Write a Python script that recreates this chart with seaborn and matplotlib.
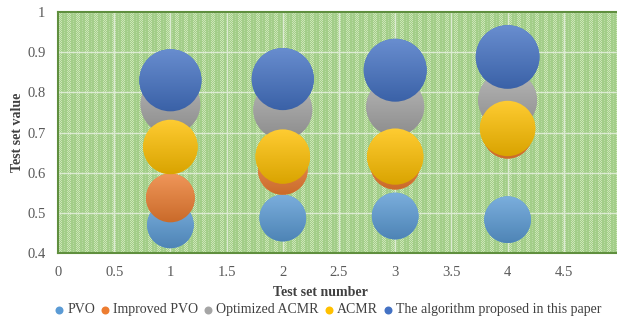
import numpy as np
import pandas as pd
import matplotlib
matplotlib.use("Agg")
import matplotlib.pyplot as plt
from matplotlib.path import Path
from matplotlib.transforms import Affine2D, IdentityTransform
from matplotlib.lines import Line2D
import seaborn as sns

# Test set numbers and measured values per method
test_sets = [1, 2, 3, 4]
series_names = ["PVO", "Improved PVO", "Optimized ACMR", "ACMR",
                "The algorithm proposed in this paper"]
pvo = [0.470, 0.487, 0.492, 0.483]
improved_pvo = [0.537, 0.607, 0.620, 0.697]
optimized_acmr = [0.770, 0.756, 0.764, 0.780]
acmr = [0.664, 0.640, 0.640, 0.710]
proposed = [0.830, 0.833, 0.855, 0.888]

# Bubble size values (area-proportional)
pvo_size = [2.2, 2.2, 2.2, 2.2]
improved_pvo_size = [2.4, 2.5, 2.5, 2.5]
optimized_acmr_size = [3.6, 3.5, 3.4, 3.5]
acmr_size = [3.0, 3.0, 3.2, 3.1]
proposed_size = [3.9, 3.9, 4.0, 4.1]

colors = ["#5b9bd5", "#ed7d31", "#a5a5a5", "#ffc000", "#4472c4"]

values = [pvo, improved_pvo, optimized_acmr, acmr, proposed]
sizes = [pvo_size, improved_pvo_size, optimized_acmr_size, acmr_size, proposed_size]

rows = []
for name, v, s in zip(series_names, values, sizes):
    for x, yv, sv in zip(test_sets, v, s):
        rows.append({"set": x, "value": yv, "bubble": sv, "method": name})
df = pd.DataFrame(rows)

sns.set_theme(style="white")
plt.rcParams["font.family"] = ["Liberation Serif", "DejaVu Serif"]

W, H = 617, 323
DPI = 100
fig = plt.figure(figsize=(W / DPI, H / DPI), dpi=DPI)
ax = fig.add_axes([58 / W, 1 - 253 / H, (620 - 58) / W, (253 - 12) / H])

# Striped, lightly dotted green plot background
ax.set_facecolor("#a6cf8b")
ph, pw = 241, 562
tex = np.zeros((ph, pw, 4))
dark = np.array([0.64, 0.81, 0.54])
light = np.array([0.80, 0.90, 0.72])
rr, cc = np.mgrid[0:ph, 0:pw]
phase = cc % 9
in_light = phase < 4
checker = (rr + cc) % 2 == 0
tex[..., :3] = dark
tex[..., 3] = 1.0
sel = in_light & checker
tex[sel, :3] = light
sel2 = (~in_light) & checker & (phase % 3 == 0)
tex[sel2, :3] = dark * 0.5 + light * 0.5
ax.imshow(tex, extent=[0, 1, 0, 1], transform=ax.transAxes,
          aspect="auto", zorder=0, interpolation="nearest")

ax.set_xlim(0, 5)
ax.set_ylim(0.4, 1.0)
ax.set_xticks(np.arange(0, 5, 0.5))
ax.set_xticklabels(["0", "0.5", "1", "1.5", "2", "2.5", "3", "3.5", "4", "4.5"])
ax.set_yticks(np.arange(0.4, 1.01, 0.1))
ax.set_yticklabels(["0.4", "0.5", "0.6", "0.7", "0.8", "0.9", "1"])
ax.grid(True, color="#dcebd2", linewidth=1.0, zorder=1)
ax.set_axisbelow(True)

scale = 2000 / 3.9
sns.scatterplot(data=df, x="set", y="value", hue="method", size="bubble",
                hue_order=series_names, palette=colors,
                sizes=(0, 5.0 * scale), size_norm=(0, 5.0),
                linewidth=0, alpha=1.0, legend=False, ax=ax, zorder=3)

# Shade each bubble with a vertical gradient (lighter top, darker bottom)
coll = ax.collections[-1]
offsets = coll.get_offsets()
areas = coll.get_sizes()
faces = coll.get_facecolors()
circle = Path.unit_circle()
inv = ax.transData.inverted()
for i in range(len(offsets)):
    area = areas[i] if len(areas) > 1 else areas[0]
    r_px = np.sqrt(area) / 2 * DPI / 72
    cx, cy = ax.transData.transform(offsets[i])
    base = np.array(faces[i][:3])
    top = base + (1 - base) * 0.2
    bottom = base * 0.85
    t = np.linspace(0, 1, 64)[:, None]
    grad = top * (1 - t) + bottom * t
    img = np.concatenate([grad, np.ones((64, 1))], axis=1)[:, None, :]
    x0, y0 = inv.transform((cx - r_px - 1, cy - r_px - 1))
    x1, y1 = inv.transform((cx + r_px + 1, cy + r_px + 1))
    im = ax.imshow(img, extent=[x0, x1, y0, y1], origin="upper",
                   aspect="auto", zorder=3.5 + i * 0.001,
                   interpolation="bilinear")
    clip = circle.transformed(Affine2D().scale(r_px).translate(cx, cy))
    im.set_clip_path(clip, IdentityTransform())
ax.set_xlim(0, 5)
ax.set_ylim(0.4, 1.0)

for sp in ax.spines.values():
    sp.set_color("#5f8f3e")
    sp.set_linewidth(1.5)

ax.tick_params(axis="both", length=0, labelsize=10.5, labelcolor="#595959", pad=9)
ax.set_xlabel("")
ax.set_ylabel("")

fig.text(320 / W, 1 - 292 / H, "Test set number", ha="center", va="center",
         fontsize=10, fontweight="bold", color="#404040")
fig.text(18 / W, 1 - 132 / H, "Test set value", ha="center", va="center",
         rotation=90, fontsize=10, fontweight="bold", color="#404040")

# Legend row: dot + label entries laid out left to right, centred under the chart
renderer = fig.canvas.get_renderer()
leg_fs = 10
dot_d = 8
dot_gap = 4
entry_gap = 6
widths = []
for name in series_names:
    t = fig.text(0, 0, name, fontsize=leg_fs)
    widths.append(t.get_window_extent(renderer).width)
    t.remove()
total = sum(widths) + len(series_names) * (dot_d + dot_gap) + (len(series_names) - 1) * entry_gap
xpos = 328 - total / 2
base_y = 1 - 313 / H
for name, c, w in zip(series_names, colors, widths):
    fig.add_artist(Line2D([(xpos + dot_d / 2) / W], [1 - 309.5 / H], marker="o",
                          linestyle="", markersize=dot_d * 72 / DPI,
                          markerfacecolor=c, markeredgewidth=0,
                          transform=fig.transFigure))
    fig.text((xpos + dot_d + dot_gap) / W, base_y, name, fontsize=leg_fs,
             color="#404040", ha="left", va="baseline")
    xpos += dot_d + dot_gap + w + entry_gap

fig.savefig("out.png", dpi=DPI)
